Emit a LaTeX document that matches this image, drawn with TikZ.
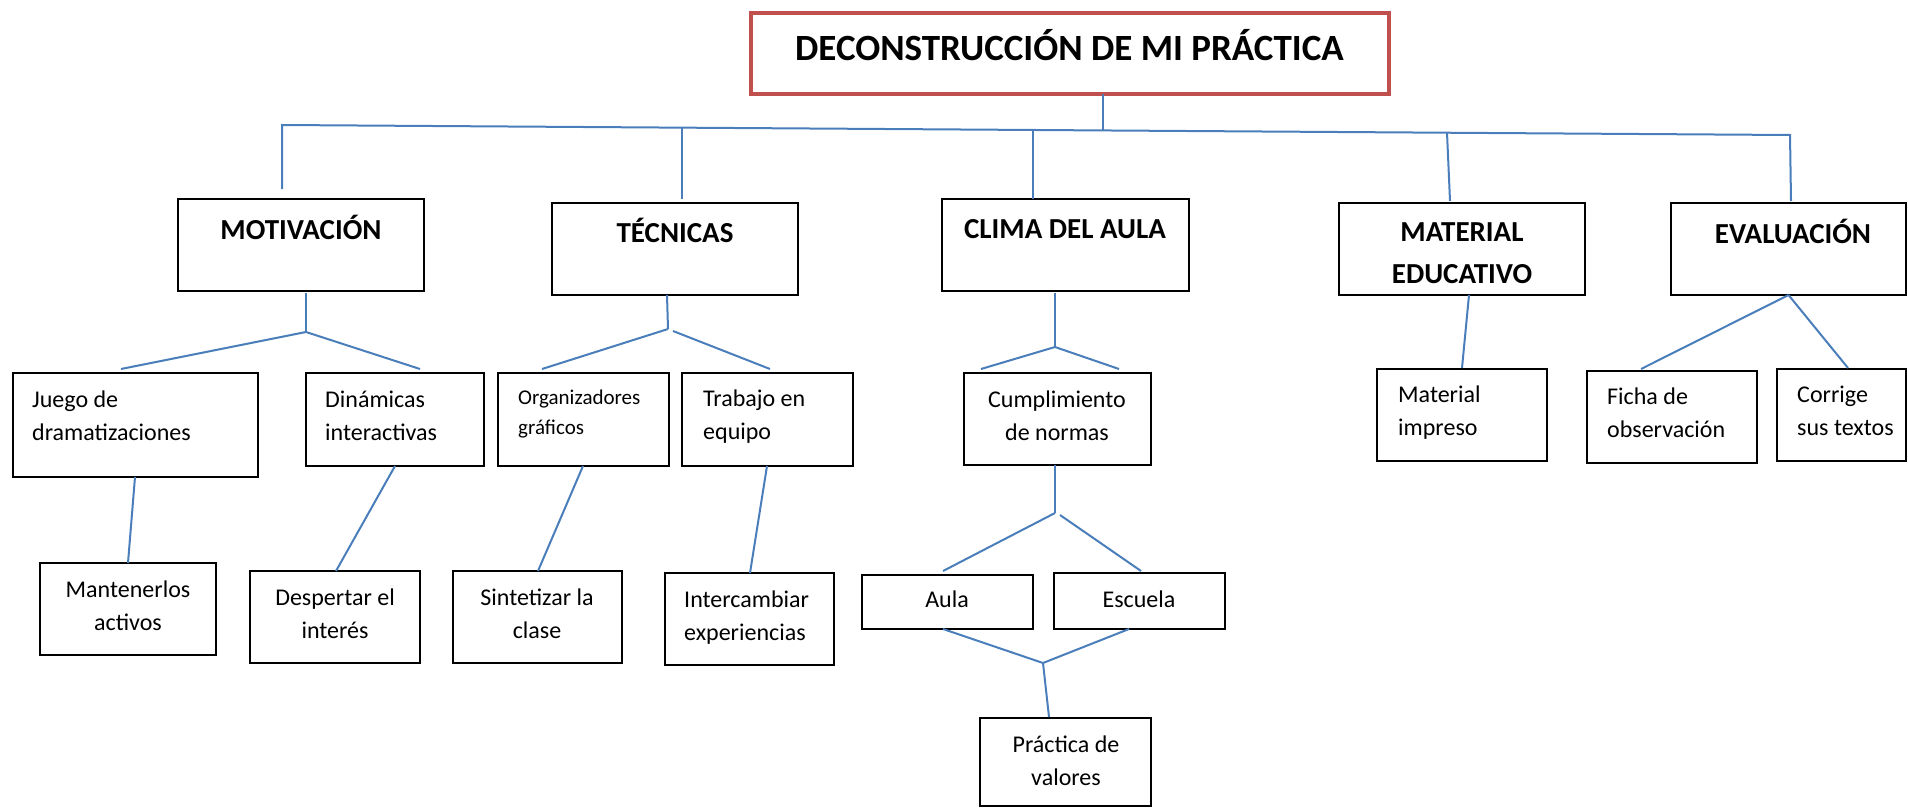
\documentclass[tikz,border=0pt]{standalone}
\usepackage{fontspec}
\setmainfont{Carlito}
\usetikzlibrary{calc}
\definecolor{lnk}{RGB}{74,126,187}
\definecolor{ttl}{RGB}{192,80,77}
\begin{document}
\begin{tikzpicture}[x=1pt,y=-1pt,
  box/.style={draw=black, line width=1.6pt, inner sep=0pt, outer sep=0pt, rectangle},
  titlebox/.style={draw=ttl, line width=4.5pt, inner sep=0pt, outer sep=0pt, rectangle},
  link/.style={draw=lnk, line width=2pt},
  hd/.style={inner sep=0pt, font=\bfseries\fontsize{29}{42}\selectfont, align=center, anchor=base},
  tt/.style={inner sep=0pt, font=\bfseries\fontsize{37}{44}\selectfont, anchor=base},
  tc/.style={inner sep=0pt, font=\fontsize{24}{33}\selectfont, align=center, anchor=base},
  tl/.style={inner sep=0pt, font=\fontsize{24}{33}\selectfont, align=left, anchor=base west},
  ts/.style={inner sep=0pt, font=\fontsize{21}{30}\selectfont, align=left, anchor=base west},
]
\useasboundingbox (0,0) rectangle (1908,808);

% boxes
\node[titlebox, minimum width=638pt, minimum height=81pt] (title) at (1070,53.5) {};
\node[box, minimum width=246pt, minimum height=92pt] (mot) at (301,245) {};
\node[box, minimum width=246pt, minimum height=92pt] (tec) at (675,249) {};
\node[box, minimum width=247pt, minimum height=92pt] (clima) at (1065.5,245) {};
\node[box, minimum width=246pt, minimum height=92pt] (mat) at (1462,249) {};
\node[box, minimum width=235pt, minimum height=92pt] (eval) at (1788.5,249) {};
\node[box, minimum width=245pt, minimum height=104pt] (juego) at (135.5,425) {};
\node[box, minimum width=178pt, minimum height=93pt] (din) at (395,419.5) {};
\node[box, minimum width=171pt, minimum height=93pt] (org) at (583.5,419.5) {};
\node[box, minimum width=171pt, minimum height=93pt] (trab) at (767.5,419.5) {};
\node[box, minimum width=187pt, minimum height=92pt] (cumpl) at (1057.5,419) {};
\node[box, minimum width=170pt, minimum height=92pt] (matimp) at (1462,415) {};
\node[box, minimum width=170pt, minimum height=92pt] (ficha) at (1672,417) {};
\node[box, minimum width=129pt, minimum height=92pt] (corr) at (1841.5,415) {};
\node[box, minimum width=176pt, minimum height=92pt] (mant) at (128,609) {};
\node[box, minimum width=170pt, minimum height=92pt] (desp) at (335,617) {};
\node[box, minimum width=169pt, minimum height=92pt] (sint) at (537.5,617) {};
\node[box, minimum width=169pt, minimum height=92pt] (inter) at (749.5,619) {};
\node[box, minimum width=171pt, minimum height=54pt] (aula) at (947.5,602) {};
\node[box, minimum width=171pt, minimum height=56pt] (esc) at (1139.5,601) {};
\node[box, minimum width=171pt, minimum height=88pt] (prac) at (1065.5,762) {};

% texts (anchor at baseline of the last line)
\node[tt] (title-t) at (1069.5,61) {DECONSTRUCCIÓN DE MI PRÁCTICA};
\node[hd] (mot-t) at (301,239) {MOTIVACIÓN};
\node[hd] (tec-t) at (675,242) {TÉCNICAS};
\node[hd] (clima-t) at (1065,238) {CLIMA DEL AULA};
\node[hd] (mat-t) at (1462,283) {MATERIAL\\EDUCATIVO};
\node[hd] (eval-t) at (1793,243) {EVALUACIÓN};
\node[tl] (juego-t) at (32,440) {Juego de\\dramatizaciones};
\node[tl] (din-t) at (325,440) {Dinámicas\\interactivas};
\node[ts] (org-t) at (518,434) {Organizadores\\gráficos};
\node[tl] (trab-t) at (703,439) {Trabajo en\\equipo};
\node[tc] (cumpl-t) at (1057,440) {Cumplimiento\\de normas};
\node[tl] (matimp-t) at (1398,435) {Material\\impreso};
\node[tl] (ficha-t) at (1607,437) {Ficha de\\observación};
\node[tl] (corr-t) at (1797,435) {Corrige\\sus textos};
\node[tc] (mant-t) at (128,630) {Mantenerlos\\activos};
\node[tc] (desp-t) at (335,638) {Despertar el\\interés};
\node[tc] (sint-t) at (537,638) {Sintetizar la\\clase};
\node[tl] (inter-t) at (684,640) {Intercambiar\\experiencias};
\node[tc] (aula-t) at (947,607) {Aula};
\node[tc] (esc-t) at (1139,607) {Escuela};
\node[tc] (prac-t) at (1066,785) {Práctica de\\valores};

% junctions
\coordinate (bl) at (282,125);
\coordinate (br) at (1790,135);
\coordinate (bt) at (1103,130.4);
\coordinate (b2) at (682,127.7);
\coordinate (b3) at (1033,130);
\coordinate (b4) at (1447,132.7);
\coordinate (mj) at (306,332);
\coordinate (tj) at (668,329);
\coordinate (cj) at (1055,347);
\coordinate (kj) at (1055,513);
\coordinate (pj) at (1043,663);

% connectors
\draw[link] (bt |- title.south) -- (bt);
\draw[link] ($(mot.north)+(-19,-10)$) -- (bl) -- (br) -- ($(eval.north)+(2.5,-2)$);
\draw[link] (b2) -- ($(tec.north)+(7,-4)$);
\draw[link] (b3) -- ($(clima.north)+(-32.5,0)$);
\draw[link] (b4) -- ($(mat.north)+(-12,-2)$);

\draw[link] ($(mot.south)+(5,2)$) -- (mj);
\draw[link] (mj) -- ($(juego.north)+(-14.5,-4)$);
\draw[link] (mj) -- ($(din.north)+(25,-4)$);

\draw[link] ($(tec.south)+(-8,0)$) -- (tj);
\draw[link] (tj) -- ($(org.north)+(-41.5,-4)$);
\draw[link] ($(tj)+(5,2)$) -- ($(trab.north)+(2.5,-4)$);

\draw[link] ($(clima.south)+(-10.5,2)$) -- (cj);
\draw[link] (cj) -- ($(cumpl.north)+(-76.5,-4)$);
\draw[link] (cj) -- ($(cumpl.north)+(61.5,-4)$);

\draw[link] ($(mat.south)+(7,0)$) -- ($(matimp.north)+(0,-1)$);

\draw[link] (eval.south) -- ($(ficha.north)+(-31,-2)$);
\draw[link] (eval.south) -- ($(corr.north)+(6.5,-1)$);

\draw[link] ($(juego.south)+(-0.5,0)$) -- (mant.north);
\draw[link] (din.south) -- ($(desp.north)+(1,0)$);
\draw[link] ($(org.south)+(-0.5,0)$) -- ($(sint.north)+(0.5,0)$);
\draw[link] ($(trab.south)+(-0.5,0)$) -- ($(inter.north)+(0.5,0)$);

\draw[link] ($(cumpl.south)+(-2.5,0)$) -- (kj);
\draw[link] (kj) -- ($(aula.north)+(-4.5,-4)$);
\draw[link] ($(kj)+(5,2)$) -- ($(esc.north)+(1.5,-2)$);

\draw[link] ($(aula.south)+(-4.5,0)$) -- (pj) -- ($(esc.south)+(-10.5,0)$);
\draw[link] (pj) -- ($(prac.north)+(-16.5,-1)$);
\end{tikzpicture}
\end{document}
